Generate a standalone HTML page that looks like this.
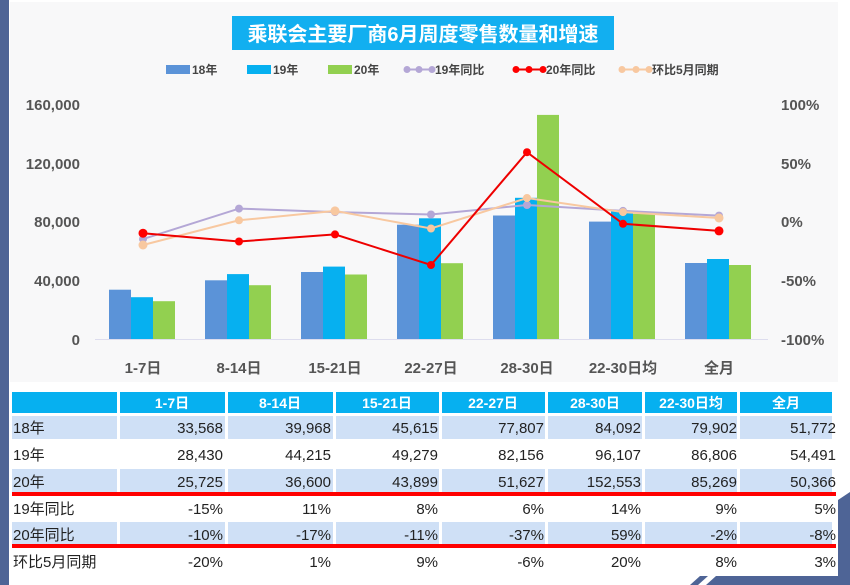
<!DOCTYPE html>
<html><head><meta charset="utf-8"><style>
html,body{margin:0;padding:0;background:#fff;}
svg{display:block;font-family:"Liberation Sans","Noto Sans CJK SC",sans-serif;}
</style></head><body>
<svg width="850" height="585" viewBox="0 0 850 585" xmlns="http://www.w3.org/2000/svg">
<rect x="0" y="0" width="850" height="585" fill="#ffffff"/>
<rect x="10" y="2" width="828" height="380" fill="#f8f8f9"/>
<rect x="0" y="0" width="9" height="560" fill="#4e6496"/>
<!-- title -->
<rect x="232" y="16" width="382" height="34" fill="#12aff0"/>
<text x="423" y="41" text-anchor="middle" font-size="20" font-weight="bold" fill="#fff">乘联会主要厂商6月周度零售数量和增速</text>
<!-- legend -->
<g font-size="12" font-weight="bold" fill="#444">
<rect x="166" y="65" width="24" height="9" fill="#5b93d8"/><text x="192" y="74">18年</text>
<rect x="247" y="65" width="24" height="9" fill="#06b0f0"/><text x="273" y="74">19年</text>
<rect x="328" y="65" width="24" height="9" fill="#92d050"/><text x="354" y="74">20年</text>
<line x1="405" y1="69.5" x2="434" y2="69.5" stroke="#b4a7d6" stroke-width="2"/><circle cx="407" cy="69.5" r="3.5" fill="#b4a7d6"/><circle cx="419" cy="69.5" r="3.5" fill="#b4a7d6"/><circle cx="432" cy="69.5" r="3.5" fill="#b4a7d6"/><text x="435" y="74">19年同比</text>
<line x1="514" y1="69.5" x2="546" y2="69.5" stroke="#e00" stroke-width="2"/><circle cx="516" cy="69.5" r="3.5" fill="#f00"/><circle cx="529" cy="69.5" r="3.5" fill="#f00"/><circle cx="543" cy="69.5" r="3.5" fill="#f00"/><text x="546" y="74">20年同比</text>
<line x1="620" y1="69.5" x2="652" y2="69.5" stroke="#f8c8a0" stroke-width="2"/><circle cx="622" cy="69.5" r="3.5" fill="#f8c8a0"/><circle cx="636" cy="69.5" r="3.5" fill="#f8c8a0"/><circle cx="649" cy="69.5" r="3.5" fill="#f8c8a0"/><text x="652" y="74">环比5月同期</text>
</g>
<!-- axes labels -->
<g font-size="15" font-weight="bold" fill="#555" text-anchor="end">
<text x="80" y="110">160,000</text>
<text x="80" y="169">120,000</text>
<text x="80" y="227">80,000</text>
<text x="80" y="286">40,000</text>
<text x="80" y="345">0</text>
</g>
<g font-size="15" font-weight="bold" fill="#555" text-anchor="start">
<text x="781" y="110">100%</text>
<text x="781" y="169">50%</text>
<text x="781" y="227">0%</text>
<text x="781" y="286">-50%</text>
<text x="781" y="345">-100%</text>
</g>
<line x1="95" y1="339.5" x2="768" y2="339.5" stroke="#dde" stroke-width="1"/>
<!-- bars -->
<g>
<g fill="#5b93d8">
<rect x="109" y="289.7" width="22" height="49.3"/>
<rect x="205" y="280.3" width="22" height="58.7"/>
<rect x="301" y="272" width="22" height="67"/>
<rect x="397" y="224.7" width="22" height="114.3"/>
<rect x="493" y="215.5" width="22" height="123.5"/>
<rect x="589" y="221.6" width="22" height="117.4"/>
<rect x="685" y="263" width="22" height="76"/>
</g>
<g fill="#06b0f0">
<rect x="131" y="297.2" width="22" height="41.8"/>
<rect x="227" y="274.1" width="22" height="64.9"/>
<rect x="323" y="266.6" width="22" height="72.4"/>
<rect x="419" y="218.3" width="22" height="120.7"/>
<rect x="515" y="197.8" width="22" height="141.2"/>
<rect x="611" y="211.5" width="22" height="127.5"/>
<rect x="707" y="259" width="22" height="80"/>
</g>
<g fill="#92d050">
<rect x="153" y="301.2" width="22" height="37.8"/>
<rect x="249" y="285.2" width="22" height="53.8"/>
<rect x="345" y="274.5" width="22" height="64.5"/>
<rect x="441" y="263.2" width="22" height="75.8"/>
<rect x="537" y="114.9" width="22" height="224.1"/>
<rect x="633" y="213.8" width="22" height="125.2"/>
<rect x="729" y="265" width="22" height="74"/>
</g>
</g>
<!-- lines -->
<g stroke-width="2" fill="none">
<polyline stroke="#b4a7d6" points="143,239.1 239,208.6 335,212.1 431,214.5 527,205 623,210.9 719,215.6"/>
<polyline stroke="#f8c8a0" points="143,245 239,220.3 335,210.9 431,228.5 527,198 623,212.1 719,218"/>
<polyline stroke="#e00" points="143,233.2 239,241.5 335,234.4 431,265 527,152.2 623,223.8 719,230.9"/>
</g>
<g fill="#b4a7d6"><circle cx="143" cy="239.1" r="4"/><circle cx="239" cy="208.6" r="4"/><circle cx="335" cy="212.1" r="4"/><circle cx="431" cy="214.5" r="4"/><circle cx="527" cy="205" r="4"/><circle cx="623" cy="210.9" r="4"/><circle cx="719" cy="215.6" r="4"/></g>
<g fill="#f8c8a0"><circle cx="143" cy="245" r="4.5"/><circle cx="239" cy="220.3" r="4"/><circle cx="335" cy="210.9" r="4.5"/><circle cx="431" cy="228.5" r="4"/><circle cx="527" cy="198" r="4"/><circle cx="623" cy="212.1" r="4"/><circle cx="719" cy="218" r="4.5"/></g>
<g fill="#f00"><circle cx="143" cy="233.2" r="4.5"/><circle cx="239" cy="241.5" r="4"/><circle cx="335" cy="234.4" r="4"/><circle cx="431" cy="265" r="4"/><circle cx="527" cy="152.2" r="4"/><circle cx="623" cy="223.8" r="4"/><circle cx="719" cy="230.9" r="4.5"/></g>
<!-- x labels -->
<g font-size="15" font-weight="bold" fill="#555" text-anchor="middle">
<text x="143" y="373">1-7日</text>
<text x="239" y="373">8-14日</text>
<text x="335" y="373">15-21日</text>
<text x="431" y="373">22-27日</text>
<text x="527" y="373">28-30日</text>
<text x="623" y="373">22-30日均</text>
<text x="719" y="373">全月</text>
</g>
<!-- table -->
<g>
<rect x="12" y="392" width="105" height="21" fill="#06b0f0"/>
<rect x="120" y="392" width="105" height="21" fill="#06b0f0"/>
<rect x="228" y="392" width="105" height="21" fill="#06b0f0"/>
<rect x="336" y="392" width="103" height="21" fill="#06b0f0"/>
<rect x="442" y="392" width="103" height="21" fill="#06b0f0"/>
<rect x="548" y="392" width="94" height="21" fill="#06b0f0"/>
<rect x="645" y="392" width="92" height="21" fill="#06b0f0"/>
<rect x="740" y="392" width="92" height="21" fill="#06b0f0"/>
<g fill="#cfe0f6">
<rect x="12" y="416" width="820" height="23"/>
<rect x="12" y="469" width="820" height="23"/>
<rect x="12" y="522" width="820" height="23"/>
</g>
<g stroke="#fff" stroke-width="3">
<line x1="118.5" y1="414" x2="118.5" y2="575"/><line x1="226.5" y1="414" x2="226.5" y2="575"/><line x1="334.5" y1="414" x2="334.5" y2="575"/><line x1="440.5" y1="414" x2="440.5" y2="575"/><line x1="546.5" y1="414" x2="546.5" y2="575"/><line x1="643.5" y1="414" x2="643.5" y2="575"/><line x1="738.5" y1="414" x2="738.5" y2="575"/>
</g>
<rect x="12" y="492" width="824" height="4" fill="#f00"/>
<rect x="12" y="544" width="824" height="4" fill="#f00"/>
<g font-size="14" font-weight="bold" fill="#fff" text-anchor="middle">
<text x="172" y="408">1-7日</text><text x="280" y="408">8-14日</text><text x="387" y="408">15-21日</text><text x="493" y="408">22-27日</text><text x="595" y="408">28-30日</text><text x="691" y="408">22-30日均</text><text x="786" y="408">全月</text>
</g>
<g font-size="15" fill="#222">
<text x="13" y="433">18年</text><text x="13" y="460">19年</text><text x="13" y="487">20年</text><text x="13" y="514">19年同比</text><text x="13" y="540">20年同比</text><text x="13" y="567">环比5月同期</text>
</g>
<g font-size="15" fill="#222" text-anchor="end">
<text x="223" y="433">33,568</text><text x="331" y="433">39,968</text><text x="438" y="433">45,615</text><text x="544" y="433">77,807</text><text x="641" y="433">84,092</text><text x="737" y="433">79,902</text><text x="836" y="433">51,772</text>
<text x="223" y="460">28,430</text><text x="331" y="460">44,215</text><text x="438" y="460">49,279</text><text x="544" y="460">82,156</text><text x="641" y="460">96,107</text><text x="737" y="460">86,806</text><text x="836" y="460">54,491</text>
<text x="223" y="487">25,725</text><text x="331" y="487">36,600</text><text x="438" y="487">43,899</text><text x="544" y="487">51,627</text><text x="641" y="487">152,553</text><text x="737" y="487">85,269</text><text x="836" y="487">50,366</text>
<text x="223" y="514">-15%</text><text x="331" y="514">11%</text><text x="438" y="514">8%</text><text x="544" y="514">6%</text><text x="641" y="514">14%</text><text x="737" y="514">9%</text><text x="836" y="514">5%</text>
<text x="223" y="540">-10%</text><text x="331" y="540">-17%</text><text x="438" y="540">-11%</text><text x="544" y="540">-37%</text><text x="641" y="540">59%</text><text x="737" y="540">-2%</text><text x="836" y="540">-8%</text>
<text x="223" y="567">-20%</text><text x="331" y="567">1%</text><text x="438" y="567">9%</text><text x="544" y="567">-6%</text><text x="641" y="567">20%</text><text x="737" y="567">8%</text><text x="836" y="567">3%</text>
</g>
</g>
<!-- decorations -->
<polygon points="838,500 850,492 850,585 838,585" fill="#4e6496"/>
<polygon points="690,585 700,576 708,576 698,585" fill="#4e6496"/>
<polygon points="706,585 716,576 850,576 850,585" fill="#4e6496"/>
<polygon points="0,560 9,560 9,585 0,585" fill="#4e6496"/>
</svg>
</body></html>
